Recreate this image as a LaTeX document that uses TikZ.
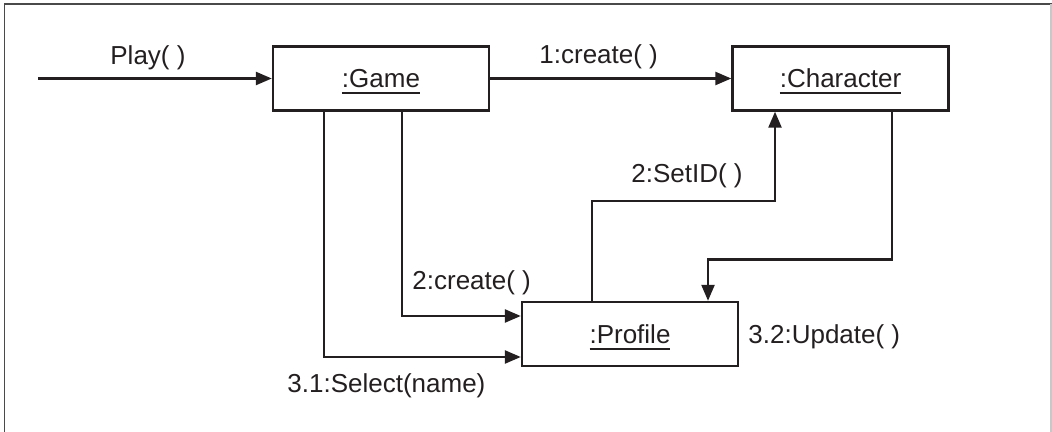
\documentclass[tikz,border=0pt]{standalone}
\usepackage{fontspec}
\setmainfont{Liberation Sans}
\usetikzlibrary{arrows.meta}
\definecolor{UMLokvir}{HTML}{4A4A4A}
\definecolor{UMLsvijetlo}{HTML}{C8C8C8}
\definecolor{UMLlinija}{HTML}{231F20}
\newcommand\UMLime[1]{\leavevmode\vtop{\hbox{#1}\kern2pt\hrule height .9pt}}
\begin{document}
\begin{tikzpicture}[font=\fontsize{13}{15}\selectfont,x=.5pt,y=-.5pt,text=UMLlinija,
 UMLobjekt/.style={draw=UMLlinija,line width=1.2pt,minimum width=108pt,minimum height=32pt,inner sep=0pt,text height=9.5pt,text depth=0pt},
 UMLporuka/.style={draw=UMLlinija,line width=1.2pt,-{Triangle[length=8pt,width=6.5pt]}},
 UMLoznaka/.style={anchor=base west,inner sep=0pt}]
\useasboundingbox (0,0) rectangle (1052,432);
\draw[UMLokvir,line width=.8pt] (4.5,432)--(4.5,4)--(1052,4);
\draw[UMLsvijetlo,line width=.6pt] (1051,4)--(1051,432);
\node[UMLobjekt] (game) at (381,78.5) {\UMLime{:Game}};
\node[UMLobjekt] (character) at (840.5,78.5) {\UMLime{:Character}};
\node[UMLobjekt] (profile) at (630,334) {\UMLime{:Profile}};
\coordinate (start) at (38,78.5);
\draw[UMLporuka] (start)--(game.west);
\draw[UMLporuka] (game.east)--(character.west);
\draw[UMLporuka] ([xshift=-28.5pt]game.south) |- ([yshift=-11.5pt]profile.west);
\draw[UMLporuka] ([xshift=10.5pt]game.south) |- ([yshift=9pt]profile.west);
\draw[UMLporuka] ([xshift=-19pt]profile.north) -- ++(0,-100) -| ([xshift=-32.75pt]character.south);
\draw[UMLporuka] ([xshift=25.75pt]character.south) -- ++(0,148) -| ([xshift=39pt]profile.north);
\foreach \ime/\x/\y/\lab in {lplay/110/65/Play( ),lcreate/539/64/1:create( ),lsetid/631/183/2:SetID( ),
 lcreateb/412/289/2:create( ),lselect/287/392/3.1:Select(name),lupdate/748/343/3.2:Update( )}
 {\node[UMLoznaka] (\ime) at (\x,\y) {\lab};}
\end{tikzpicture}
\end{document}
